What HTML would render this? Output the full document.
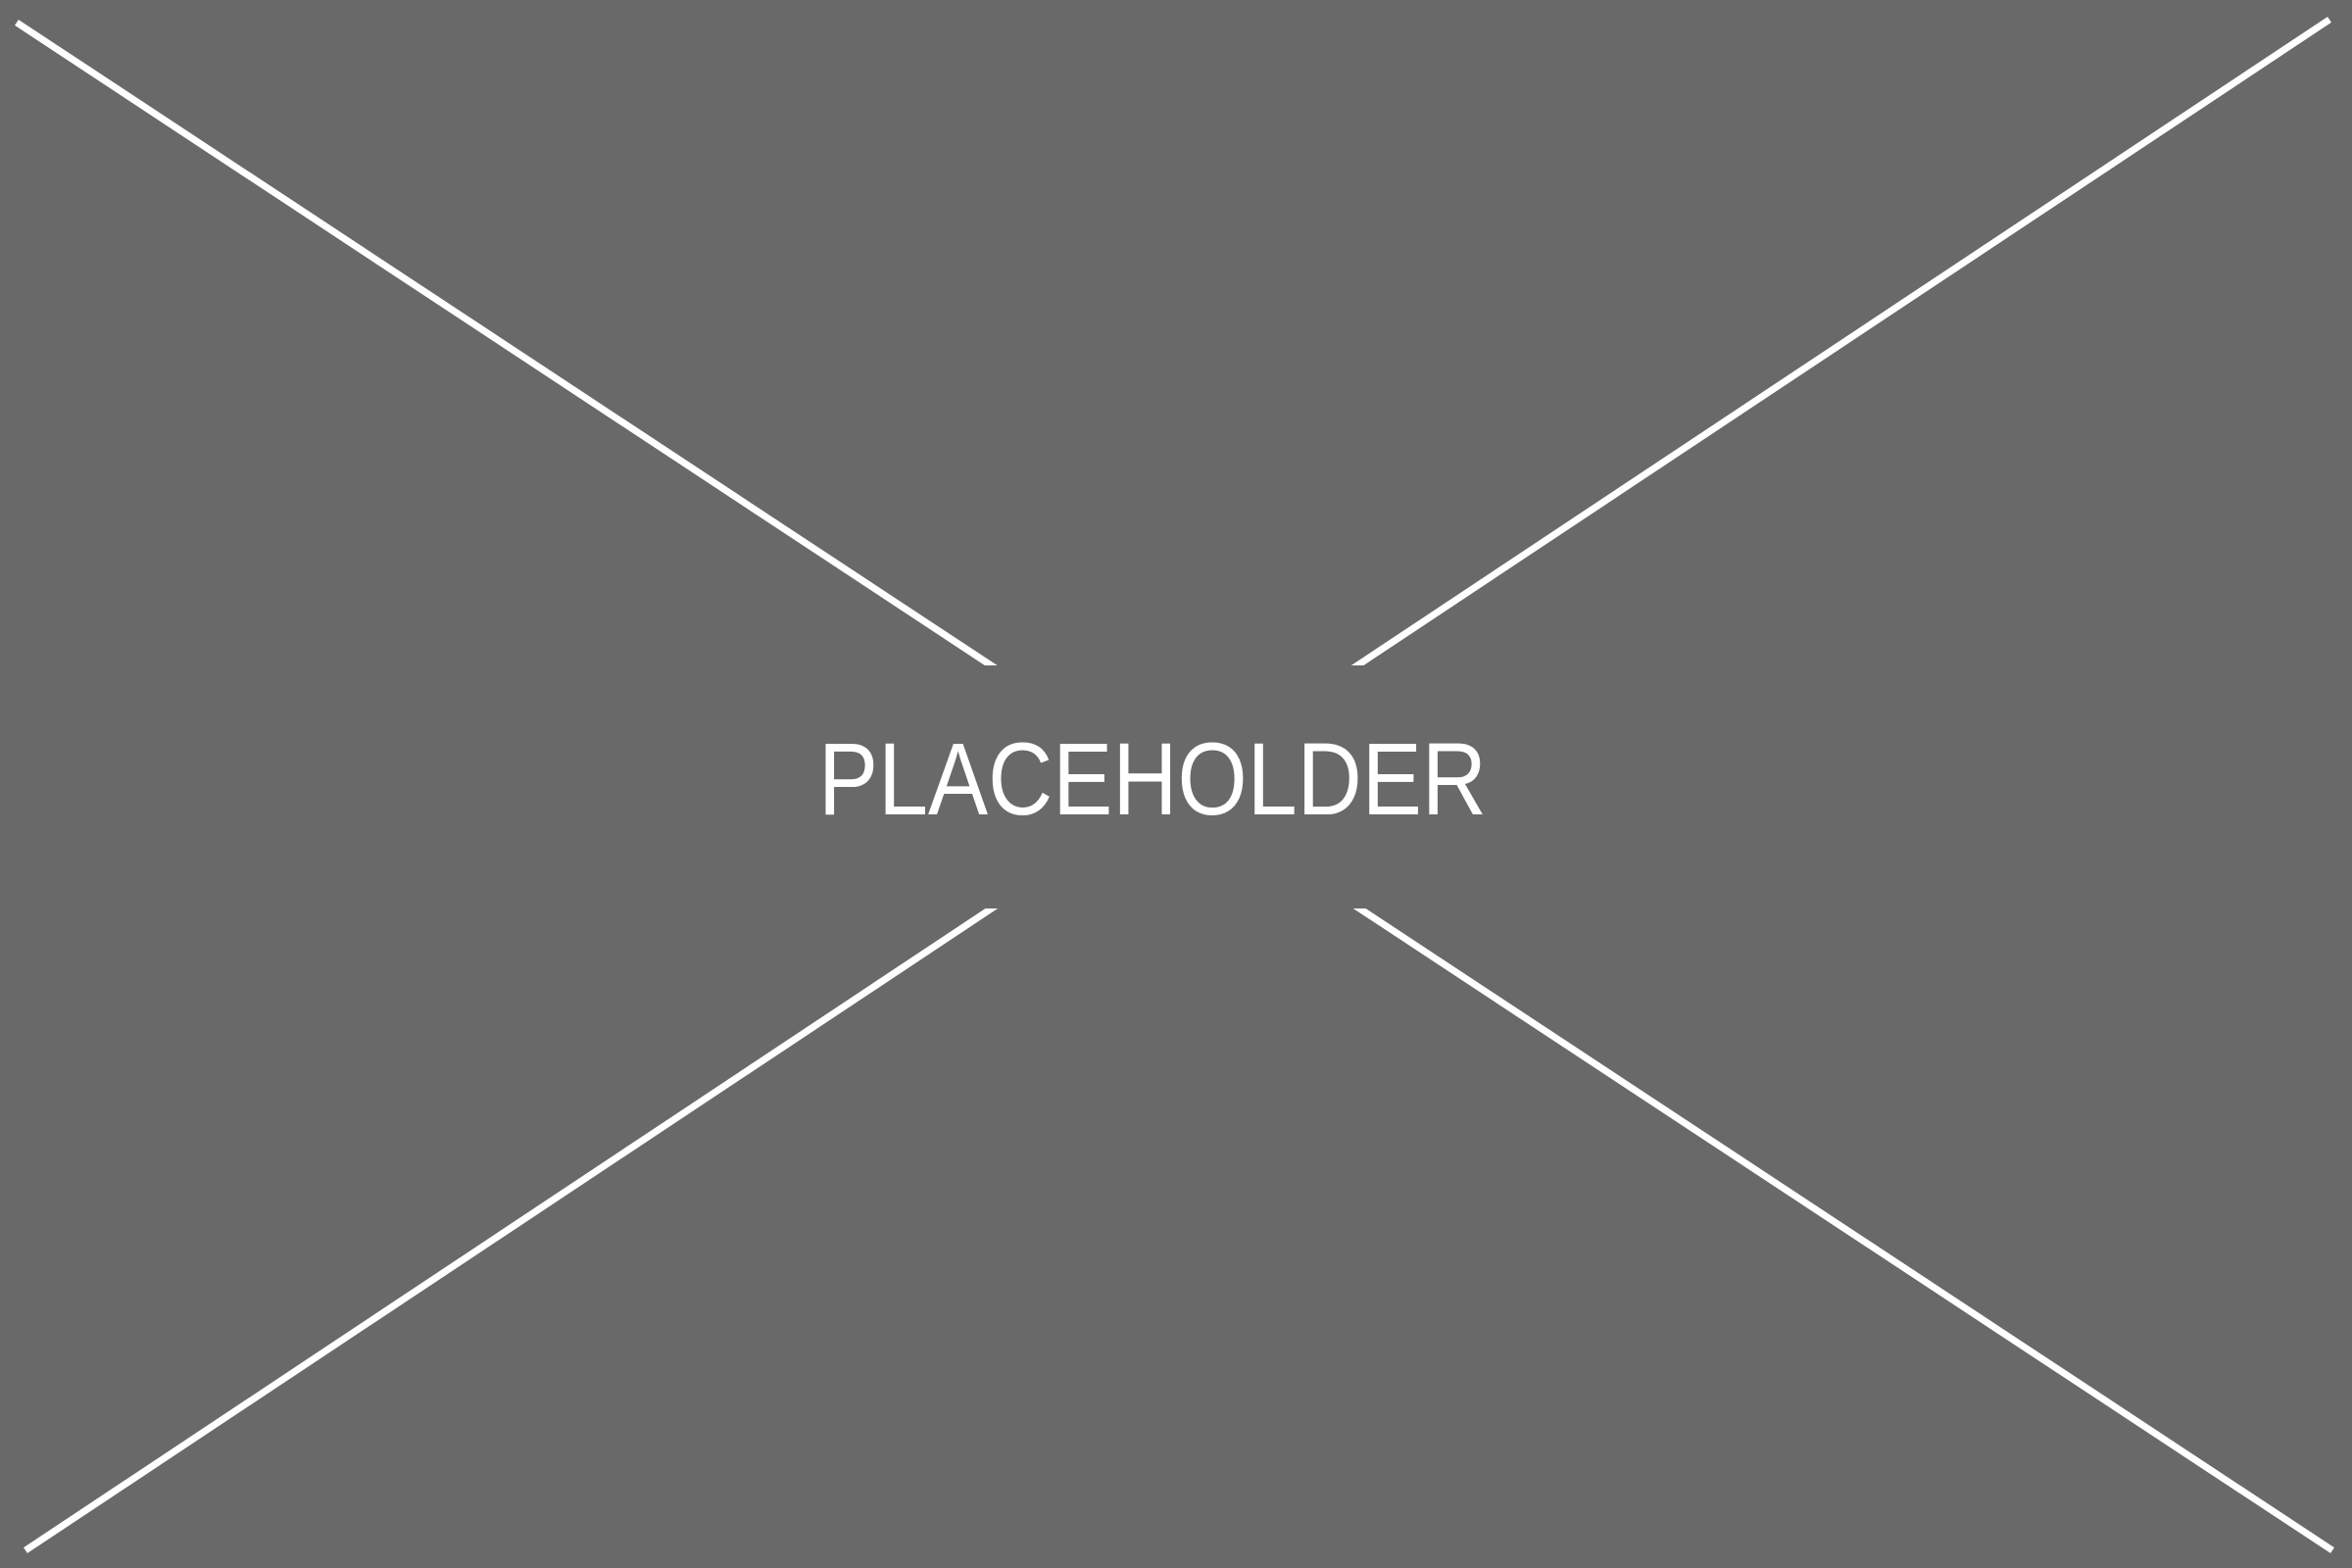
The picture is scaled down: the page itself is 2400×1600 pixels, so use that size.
<!DOCTYPE html>
<html><head><meta charset="utf-8"><style>
html,body{margin:0;padding:0;background:#696969;}
svg{display:block;}
</style></head><body>
<svg width="2400" height="1600" viewBox="0 0 2400 1600" xmlns="http://www.w3.org/2000/svg">
<rect x="0" y="0" width="2400" height="1600" fill="#696969"/>
<line x1="17" y1="23" x2="2380" y2="1582" stroke="#ffffff" stroke-width="7"/>
<line x1="26" y1="1582" x2="2377" y2="20" stroke="#ffffff" stroke-width="7"/>
<rect x="960" y="679" width="480" height="248" fill="#696969"/>
<text x="835" y="831" textLength="682" lengthAdjust="spacingAndGlyphs" font-family="Liberation Sans, sans-serif" font-size="105" fill="#ffffff">PLACEHOLDER</text>
</svg>
</body></html>
